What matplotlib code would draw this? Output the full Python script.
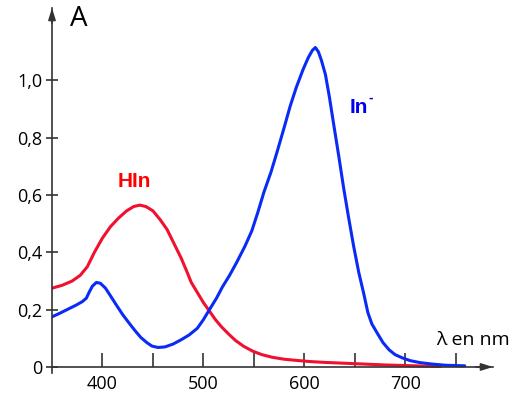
import matplotlib.pyplot as plt

# HIn (red)
lam_hin = [350, 360, 370, 378, 385, 392, 400, 408, 416, 424, 431, 437, 443, 450, 457,
           464, 471, 478, 484, 488, 494, 500, 506, 512, 518, 525, 532, 540, 549, 558,
           568, 580, 592, 605, 620, 640, 660, 680, 700, 720, 735]
a_hin = [0.275, 0.285, 0.30, 0.32, 0.35, 0.40, 0.45, 0.49, 0.52, 0.545, 0.56, 0.565,
         0.56, 0.545, 0.515, 0.48, 0.43, 0.38, 0.33, 0.295, 0.26, 0.225, 0.195, 0.165,
         0.14, 0.115, 0.092, 0.072, 0.055, 0.043, 0.034, 0.027, 0.023, 0.019, 0.016,
         0.013, 0.010, 0.007, 0.005, 0.003, 0.002]

# In- (blue)
lam_in = [350, 358, 366, 374, 380, 384, 387, 390, 394, 398, 403, 408, 414, 420, 426,
          432, 438, 444, 449, 455, 462, 470, 478, 486, 494, 500, 506, 513, 519, 526,
          533, 541, 548, 554, 560, 567, 573, 580, 586, 592, 599, 604, 608, 611, 614,
          617, 621, 625, 629, 634, 639, 644, 649, 654, 659, 663, 667, 672, 678, 684,
          690, 697, 705, 715, 727, 740, 759]
a_in = [0.175, 0.188, 0.202, 0.216, 0.228, 0.24, 0.262, 0.282, 0.295, 0.292, 0.275,
        0.248, 0.215, 0.183, 0.155, 0.128, 0.103, 0.085, 0.073, 0.068, 0.07, 0.08,
        0.095, 0.112, 0.135, 0.165, 0.20, 0.24, 0.28, 0.32, 0.365, 0.42, 0.475, 0.54,
        0.61, 0.68, 0.75, 0.835, 0.91, 0.975, 1.04, 1.08, 1.105, 1.115, 1.10, 1.07,
        1.02, 0.94, 0.85, 0.74, 0.625, 0.52, 0.42, 0.33, 0.255, 0.19, 0.15, 0.12,
        0.085, 0.06, 0.043, 0.032, 0.022, 0.015, 0.01, 0.006, 0.004]

y_ticks = [0, 0.2, 0.4, 0.6, 0.8, 1.0]
y_labels = ['0', '0,2', '0,4', '0,6', '0,8', '1,0']
x_ticks = [400, 450, 500, 550, 600, 650, 700, 750]
x_labels = ['400', '', '500', '', '600', '', '700', '']

plt.rcParams['font.family'] = ['Open Sans', 'DejaVu Sans']
axc = '#333333'

fig = plt.figure(figsize=(5.29, 4.03), dpi=100)
ax = fig.add_axes([0.0983, 0.0752, 0.8336, 0.905])
ax.set_xlim(350, 787)
ax.set_ylim(-0.02, 1.253)

ax.plot(lam_hin, a_hin, color='#f0102f', lw=2.2, solid_capstyle='round',
        solid_joinstyle='round')
ax.plot(lam_in, a_in, color='#0a2bf5', lw=2.2, solid_capstyle='round',
        solid_joinstyle='round')

for s in ['top', 'right']:
    ax.spines[s].set_visible(False)
ax.spines['bottom'].set_position(('data', 0))
for s in ['left', 'bottom']:
    ax.spines[s].set_color(axc)
    ax.spines[s].set_linewidth(1.2)

ax.annotate('', xy=(787, 0), xytext=(770, 0), annotation_clip=False,
            arrowprops=dict(arrowstyle='-|>,head_length=0.7,head_width=0.22',
                            color=axc, lw=1.2, shrinkA=0, shrinkB=0))
ax.annotate('', xy=(350, 1.253), xytext=(350, 1.2), annotation_clip=False,
            arrowprops=dict(arrowstyle='-|>,head_length=0.7,head_width=0.22',
                            color=axc, lw=1.2, shrinkA=0, shrinkB=0))

ax.set_yticks(y_ticks)
ax.set_yticklabels(y_labels, fontsize=13)
ax.set_xticks(x_ticks)
ax.set_xticklabels(x_labels, fontsize=13)
ax.tick_params(axis='y', direction='inout', length=8, width=1.2, color=axc, pad=3)
ax.tick_params(axis='x', direction='in', length=10, width=1.2, color=axc, pad=6)

ax.text(368, 1.215, 'A', fontsize=20, va='center', ha='left')
ax.text(432, 0.649, 'HIn', color='#ff0000', fontsize=15, fontweight='bold',
        family='Liberation Sans', va='center', ha='center')
ax.text(645, 0.906, 'In', color='#0000ee', fontsize=15, fontweight='bold',
        family='Liberation Sans', va='center', ha='left')
ax.text(664, 0.94, '-', color='#0000ee', fontsize=10, fontweight='bold',
        family='Liberation Sans', va='center', ha='left')
ax.text(731, 0.094, 'λ en nm', fontsize=14, va='center', ha='left')

fig.savefig('out.png', dpi=100)
